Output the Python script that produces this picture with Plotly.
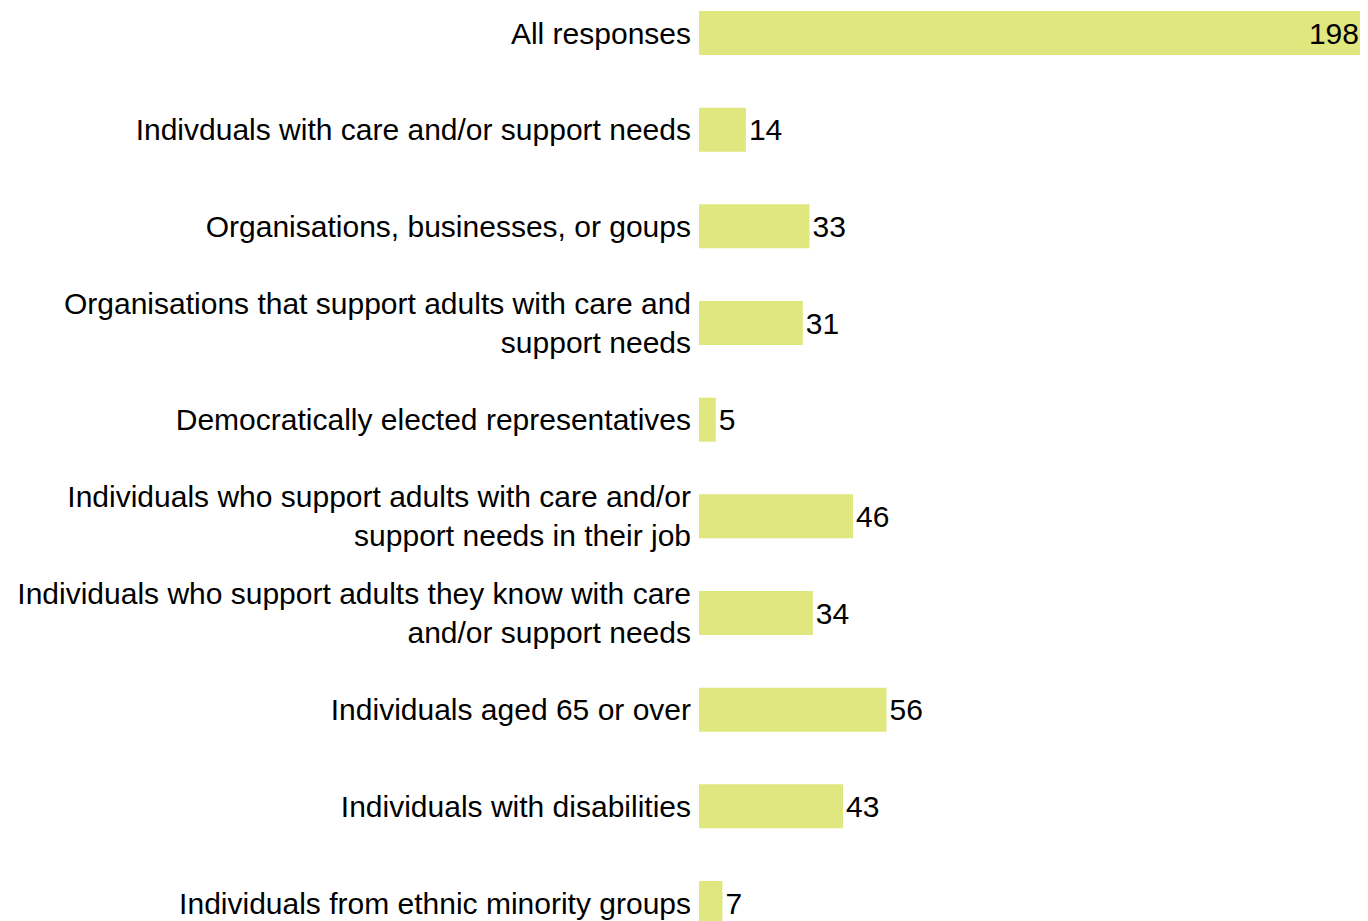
import plotly.graph_objects as go

categories = [
    "All responses",
    "Indivduals with care and/or support needs",
    "Organisations, businesses, or goups",
    "Organisations that support adults with care and<br>support needs",
    "Democratically elected representatives",
    "Individuals who support adults with care and/or<br>support needs in their job",
    "Individuals who support adults they know with care<br>and/or support needs",
    "Individuals aged 65 or over",
    "Individuals with disabilities",
    "Individuals from ethnic minority groups",
]
values = [198, 14, 33, 31, 5, 46, 34, 56, 43, 7]

positions = ["inside" if v == max(values) else "outside" for v in values]
FONT = "Liberation Sans, Arial, sans-serif"
FS = 30

fig = go.Figure(
    go.Bar(
        y=categories,
        x=values,
        orientation="h",
        marker=dict(color="#dfe77e", line=dict(width=0)),
        width=0.455,
        text=[str(v) for v in values],
        textposition=positions,
        insidetextanchor="end",
        textfont=dict(family=FONT, size=FS, color="black"),
        insidetextfont=dict(color="black"),
        outsidetextfont=dict(color="black"),
        cliponaxis=False,
    )
)

fig.update_layout(
    width=1360,
    height=913,
    margin=dict(l=691, r=6, t=0, b=0, autoexpand=False),
    paper_bgcolor="white",
    plot_bgcolor="white",
    font=dict(family=FONT, size=FS, color="black"),
    showlegend=False,
)
fig.update_xaxes(range=[0, 198], visible=False, showgrid=False, zeroline=False)
fig.update_yaxes(
    type="category",
    categoryorder="array",
    categoryarray=categories,
    range=[9.186, -0.2586],
    automargin=False,
    showgrid=False,
    zeroline=False,
    showline=False,
    ticks="",
    ticklabelstandoff=7,
    tickfont=dict(size=FS, color="black"),
)

fig.write_html("out.html")
